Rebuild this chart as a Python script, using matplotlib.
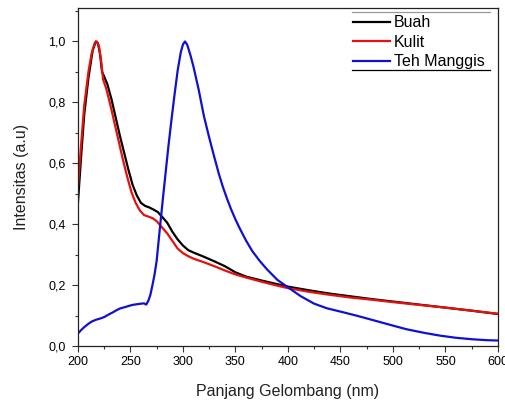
import matplotlib
matplotlib.use('Agg')
import matplotlib.pyplot as plt
from matplotlib.ticker import MultipleLocator, FuncFormatter
from matplotlib.lines import Line2D

plt.rcParams['font.family'] = ['Liberation Sans', 'DejaVu Sans']

# Buah
buah_wl = [200, 203, 206, 210, 214, 217, 219, 221, 223, 225, 228, 232, 236, 240, 244, 248,
           252, 256, 260, 264, 268, 272, 276, 280, 285, 290, 295, 300, 305, 310, 315, 320,
           330, 340, 350, 360, 375, 390, 400, 420, 440, 460, 480, 500, 525, 550, 575, 600]
buah = [0.47, 0.62, 0.76, 0.88, 0.97, 1.0, 0.995, 0.96, 0.9, 0.885, 0.86, 0.81, 0.75, 0.69,
        0.635, 0.58, 0.53, 0.495, 0.47, 0.46, 0.455, 0.448, 0.44, 0.425, 0.405, 0.375, 0.35,
        0.33, 0.315, 0.307, 0.3, 0.293, 0.278, 0.262, 0.242, 0.228, 0.215, 0.203, 0.195,
        0.183, 0.172, 0.163, 0.154, 0.146, 0.136, 0.126, 0.116, 0.105]

# Kulit
kulit_wl = [200, 203, 206, 210, 213, 216, 218, 220, 222, 224, 227, 231, 235, 239, 243, 247,
            251, 255, 259, 263, 267, 271, 275, 280, 285, 290, 295, 300, 305, 310, 320, 330,
            340, 350, 360, 375, 390, 400, 420, 440, 460, 480, 500, 525, 550, 575, 600]
kulit = [0.52, 0.66, 0.79, 0.9, 0.96, 0.995, 1.0, 0.985, 0.94, 0.875, 0.845, 0.79, 0.73,
         0.67, 0.61, 0.555, 0.505, 0.47, 0.445, 0.43, 0.425, 0.42, 0.41, 0.39, 0.37, 0.345,
         0.32, 0.305, 0.295, 0.287, 0.275, 0.262, 0.248, 0.235, 0.225, 0.211, 0.198, 0.19,
         0.178, 0.168, 0.159, 0.152, 0.144, 0.135, 0.126, 0.116, 0.106]

# Teh Manggis
teh_wl = [200, 203, 206, 210, 213, 217, 221, 225, 229, 233, 237, 240, 244, 248, 252, 256,
          260, 263, 265, 267, 269, 271, 273, 275, 278, 281, 284, 286, 289, 292, 295, 298,
          300, 302, 304, 307, 310, 315, 320, 325, 329, 334, 338, 342, 346, 350, 354, 360,
          366, 373, 380, 390, 402, 412, 425, 437, 450, 465, 481, 500, 513, 530, 545, 560,
          576, 590, 600]
teh = [0.041, 0.052, 0.062, 0.073, 0.08, 0.086, 0.09, 0.095, 0.103, 0.11, 0.118, 0.123,
       0.127, 0.131, 0.135, 0.137, 0.139, 0.14, 0.136, 0.148, 0.168, 0.2, 0.235, 0.28, 0.385,
       0.486, 0.585, 0.65, 0.74, 0.825, 0.905, 0.965, 0.99, 1.0, 0.99, 0.957, 0.918, 0.842,
       0.755, 0.685, 0.632, 0.568, 0.523, 0.484, 0.448, 0.416, 0.387, 0.347, 0.312, 0.28,
       0.252, 0.217, 0.188, 0.164, 0.139, 0.124, 0.113, 0.1, 0.085, 0.067, 0.055, 0.043,
       0.034, 0.027, 0.022, 0.019, 0.018]

fig = plt.figure(figsize=(5.06, 4.0), dpi=100)
ax = fig.add_axes([0.154, 0.135, 0.83, 0.845])

ax.plot(buah_wl, buah, color='black', lw=1.6, label='Buah')
ax.plot(kulit_wl, kulit, color='#e8100c', lw=1.6, label='Kulit')
ax.plot(teh_wl, teh, color='#1010d4', lw=1.6, label='Teh Manggis')

ax.set_xlim(200, 600)
ax.set_ylim(0, 1.11)
ax.xaxis.set_major_locator(MultipleLocator(50))
ax.xaxis.set_minor_locator(MultipleLocator(25))
ax.yaxis.set_major_locator(MultipleLocator(0.2))
ax.yaxis.set_minor_locator(MultipleLocator(0.1))
ax.yaxis.set_major_formatter(FuncFormatter(lambda v, p: f'{v:.1f}'.replace('.', ',')))
ax.tick_params(which='major', length=4, width=0.8, labelsize=9, color='#333333')
ax.tick_params(axis='y', which='major', pad=5)
ax.tick_params(which='minor', length=2.5, width=0.8, color='#333333')
for s in ax.spines.values():
    s.set_linewidth(0.9)
    s.set_color('#222222')

ax.set_xlabel('Panjang Gelombang (nm)', fontsize=11.5, labelpad=11, color='#222222')
ax.set_ylabel('Intensitas (a.u)', fontsize=11.5, labelpad=14, color='#222222')

leg = ax.legend(loc='upper left', bbox_to_anchor=(0.655, 0.978), frameon=False, fontsize=11.5,
                handlelength=2.3, handletextpad=0.25, labelspacing=0.28, borderpad=0,
                borderaxespad=0)
ax.add_line(Line2D([0.652, 0.981], [0.988, 0.988], transform=ax.transAxes, color='#999999', lw=0.9))
ax.add_line(Line2D([0.652, 0.981], [0.817, 0.817], transform=ax.transAxes, color='black', lw=0.9))

fig.savefig('out.png', dpi=100)
